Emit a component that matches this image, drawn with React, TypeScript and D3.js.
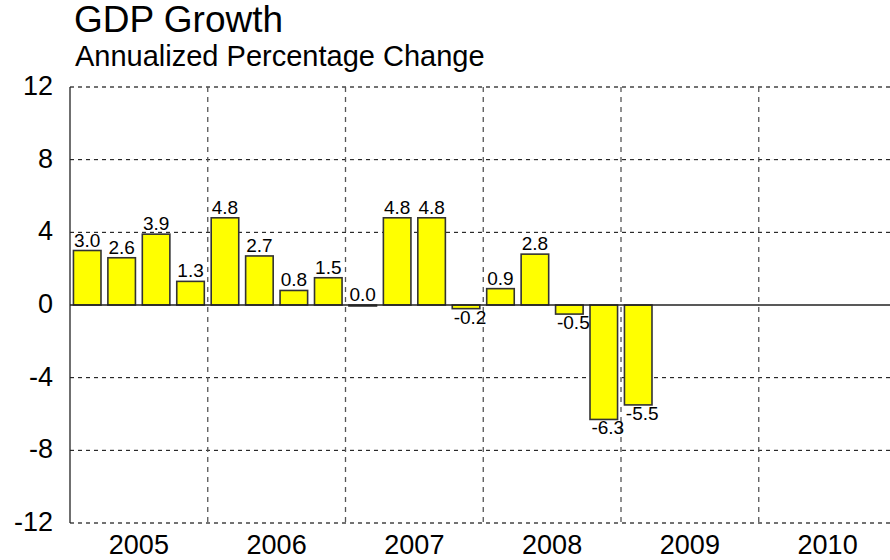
import * as d3 from "d3";
import { useRef, useEffect } from "react";

// chart data, quarterly annualized GDP growth
const quarters = [
  "2005Q1", "2005Q2", "2005Q3", "2005Q4",
  "2006Q1", "2006Q2", "2006Q3", "2006Q4",
  "2007Q1", "2007Q2", "2007Q3", "2007Q4",
  "2008Q1", "2008Q2", "2008Q3", "2008Q4",
  "2009Q1",
];
const growth = [3.0, 2.6, 3.9, 1.3, 4.8, 2.7, 0.8, 1.5, 0.0, 4.8, 4.8, -0.2, 0.9, 2.8, -0.5, -6.3, -5.5];
const years = ["2005", "2006", "2007", "2008", "2009", "2010"];
const yTicks = [-12, -8, -4, 0, 4, 8, 12];

const width = 890;
const height = 560;
const marginTop = 87;
const marginLeft = 70;
const plotWidth = 826.5;
const plotBottom = 523;
const font = "'Liberation Sans', Arial, sans-serif";

const App = () => {
  const ref = useRef<SVGSVGElement>(null);

  useEffect(() => {
    if (!ref.current) return;
    const svg = d3.select(ref.current);
    svg.selectAll("*").remove();

    // one band per quarter, 2005Q1 .. 2010Q4
    const allQuarters: string[] = [];
    years.forEach((y) => [1, 2, 3, 4].forEach((q) => allQuarters.push(`${y}Q${q}`)));

    const x = d3.scaleBand()
      .domain(allQuarters)
      .range([marginLeft, marginLeft + plotWidth])
      .paddingInner(0.2)
      .paddingOuter(0.1);

    const yearX = d3.scaleBand()
      .domain(years)
      .range([marginLeft, marginLeft + plotWidth]);

    const y = d3.scaleLinear()
      .domain([-12, 12])
      .range([plotBottom, marginTop]);

    // titles
    svg.append("text")
      .attr("x", 74).attr("y", 32)
      .attr("font-size", 37).attr("font-family", font)
      .text("GDP Growth");
    svg.append("text")
      .attr("x", 75).attr("y", 66)
      .attr("font-size", 29).attr("font-family", font)
      .text("Annualized Percentage Change");

    // horizontal grid
    svg.append("g")
      .selectAll("line")
      .data(yTicks.filter((t) => t !== 0))
      .join("line")
      .attr("x1", marginLeft).attr("x2", marginLeft + plotWidth)
      .attr("y1", (d) => y(d)).attr("y2", (d) => y(d))
      .attr("stroke", (d) => (Math.abs(d) === 12 ? "#444" : "#000"))
      .attr("stroke-width", (d) => (Math.abs(d) === 12 ? 1.6 : 1))
      .attr("stroke-dasharray", "4,4");

    // vertical year separators
    svg.append("g")
      .selectAll("line")
      .data(years.slice(1))
      .join("line")
      .attr("x1", (d) => yearX(d)!).attr("x2", (d) => yearX(d)!)
      .attr("y1", marginTop).attr("y2", plotBottom)
      .attr("stroke", "#555")
      .attr("stroke-width", 1.3)
      .attr("stroke-dasharray", "5,5");

    // left axis line
    svg.append("line")
      .attr("x1", marginLeft).attr("x2", marginLeft)
      .attr("y1", marginTop).attr("y2", plotBottom)
      .attr("stroke", "#222").attr("stroke-width", 1.3);

    // bars
    svg.append("g")
      .selectAll("rect")
      .data(growth)
      .join("rect")
      .attr("x", (d, i) => x(quarters[i])!)
      .attr("width", x.bandwidth())
      .attr("y", (d) => y(Math.max(0, d)))
      .attr("height", (d) => Math.max(Math.abs(y(d) - y(0)), 1))
      .attr("fill", "#ffff00")
      .attr("stroke", "#333")
      .attr("stroke-width", 1.6);

    // zero line
    svg.append("line")
      .attr("x1", marginLeft).attr("x2", marginLeft + plotWidth)
      .attr("y1", y(0)).attr("y2", y(0))
      .attr("stroke", "#222").attr("stroke-width", 1.5);

    // value labels
    svg.append("g")
      .selectAll("text")
      .data(growth)
      .join("text")
      .attr("x", (d, i) => x(quarters[i])! + x.bandwidth() / 2 + (d < 0 ? 4 : 0))
      .attr("y", (d) => (d < 0 ? y(d) + 15 : y(d) - 4))
      .attr("text-anchor", "middle")
      .attr("font-size", 19)
      .attr("font-family", font)
      .text((d) => d.toFixed(1));

    // y tick labels
    svg.append("g")
      .selectAll("text")
      .data(yTicks)
      .join("text")
      .attr("x", 53)
      .attr("y", (d) => y(d) + 8)
      .attr("text-anchor", "end")
      .attr("font-size", 27)
      .attr("font-family", font)
      .text((d) => String(d));

    // year labels
    svg.append("g")
      .selectAll("text")
      .data(years)
      .join("text")
      .attr("x", (d) => yearX(d)! + yearX.bandwidth() / 2)
      .attr("y", 554)
      .attr("text-anchor", "middle")
      .attr("font-size", 27)
      .attr("font-family", font)
      .text((d) => d);
  }, []);

  return (
    <svg
      ref={ref}
      width={width}
      height={height}
      style={{ position: "absolute", left: 0, top: 0, background: "#fff" }}
    />
  );
};

export default App;
